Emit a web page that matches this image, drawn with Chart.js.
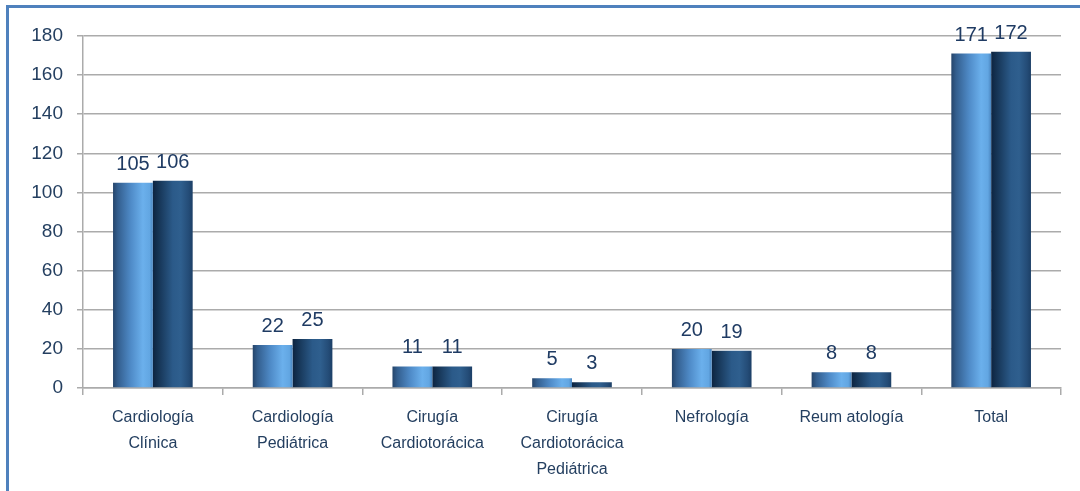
<!DOCTYPE html>
<html>
<head>
<meta charset="utf-8">
<script src="https://cdn.jsdelivr.net/npm/chart.js@4.4.1/dist/chart.umd.min.js"></script>
<style>
  html, body { margin: 0; padding: 0; background: #ffffff; }
  #wrap { position: relative; width: 1080px; height: 491px; overflow: hidden; }
  #frame { position: absolute; left: 6px; top: 5px; width: 1100px; height: 520px;
           border-left: 3px solid #4F81BD; border-top: 3px solid #4F81BD; box-sizing: border-box; }
  canvas { position: absolute; left: 0; top: 0; }
</style>
</head>
<body>
<div id="wrap">
  <div id="frame"></div>
  <canvas id="c" width="1080" height="491"></canvas>
</div>
<script>
const categories = [
  ["Cardiología", "Clínica"],
  ["Cardiología", "Pediátrica"],
  ["Cirugía", "Cardiotorácica"],
  ["Cirugía", "Cardiotorácica", "Pediátrica"],
  ["Nefrología"],
  ["Reum atología"],
  ["Total"]
];
const seriesA = [105, 22, 11, 5, 20, 8, 171];
const seriesB = [106, 25, 11, 3, 19, 8, 172];
const yTicks = [0, 20, 40, 60, 80, 100, 120, 140, 160, 180];

const CAT_PCT = 0.57;

function barGradient(ctx, which) {
  const fallback = which === 0 ? '#4A86C5' : '#1F4A75';
  const chart = ctx.chart;
  const xs = chart.scales && chart.scales.x;
  if (!xs || ctx.dataIndex === undefined) return fallback;
  const n = categories.length;
  const catW = (xs.right - xs.left) / n;
  const center = xs.getPixelForValue(ctx.dataIndex);
  const group = catW * CAT_PCT;
  const left = center - group / 2 + which * group / 2;
  const right = left + group / 2;
  if (!isFinite(left) || !isFinite(right) || right <= left) return fallback;
  const g = chart.ctx.createLinearGradient(left, 0, right, 0);
  if (which === 0) {
    g.addColorStop(0, '#25456B');
    g.addColorStop(0.12, '#335E8E');
    g.addColorStop(0.45, '#4F8BC8');
    g.addColorStop(0.75, '#6BB0EC');
    g.addColorStop(0.92, '#62A6E2');
    g.addColorStop(1, '#4A85BF');
  } else {
    g.addColorStop(0, '#0D2440');
    g.addColorStop(0.15, '#163556');
    g.addColorStop(0.5, '#2B5A89');
    g.addColorStop(0.7, '#2F5F8E');
    g.addColorStop(0.9, '#244C77');
    g.addColorStop(1, '#1C3F66');
  }
  return g;
}

const valueLabels = {
  id: 'valueLabels',
  afterDatasetsDraw(chart) {
    const c = chart.ctx;
    c.save();
    c.font = '20px "Liberation Sans", Arial, sans-serif';
    c.fillStyle = '#1F3B63';
    c.textAlign = 'center';
    c.textBaseline = 'alphabetic';
    chart.data.datasets.forEach((ds, di) => {
      const meta = chart.getDatasetMeta(di);
      meta.data.forEach((el, i) => {
        c.fillText(String(ds.data[i]), el.x, el.y - 13);
      });
    });
    c.restore();
  }
};

new Chart(document.getElementById('c'), {
  type: 'bar',
  data: {
    labels: categories,
    datasets: [
      { label: 'A', data: seriesA, backgroundColor: (ctx) => barGradient(ctx, 0), borderWidth: 0,
        categoryPercentage: CAT_PCT, barPercentage: 1.0 },
      { label: 'B', data: seriesB, backgroundColor: (ctx) => barGradient(ctx, 1), borderWidth: 0,
        categoryPercentage: CAT_PCT, barPercentage: 1.0 }
    ]
  },
  options: {
    responsive: false,
    animation: false,
    devicePixelRatio: 1,
    layout: { padding: { left: 0, right: 19, top: 36, bottom: 0 } },
    plugins: { legend: { display: false }, tooltip: { enabled: false } },
    scales: {
      y: {
        min: 0, max: 180,
        afterBuildTicks(axis) { axis.ticks = yTicks.map(v => ({ value: v })); },
        afterFit(axis) { axis.width = 83; },
        ticks: {
          color: '#243F60',
          font: { family: '"Liberation Sans", Arial, sans-serif', size: 19 },
          padding: 14
        },
        grid: { color: '#ABABAB', lineWidth: 1.5, tickLength: 6, drawTicks: true },
        border: { color: '#ABABAB', width: 1.5 }
      },
      x: {
        afterFit(axis) { axis.height = 103; },
        ticks: {
          color: '#243F60',
          font: { family: '"Liberation Sans", Arial, sans-serif', size: 16, lineHeight: 1.65 },
          padding: 9,
          maxRotation: 0,
          autoSkip: false
        },
        grid: { offset: true, drawOnChartArea: false, color: '#ABABAB', lineWidth: 1.5, tickLength: 7 },
        border: { color: '#ABABAB', width: 1.5 }
      }
    }
  },
  plugins: [valueLabels]
});
</script>
</body>
</html>
